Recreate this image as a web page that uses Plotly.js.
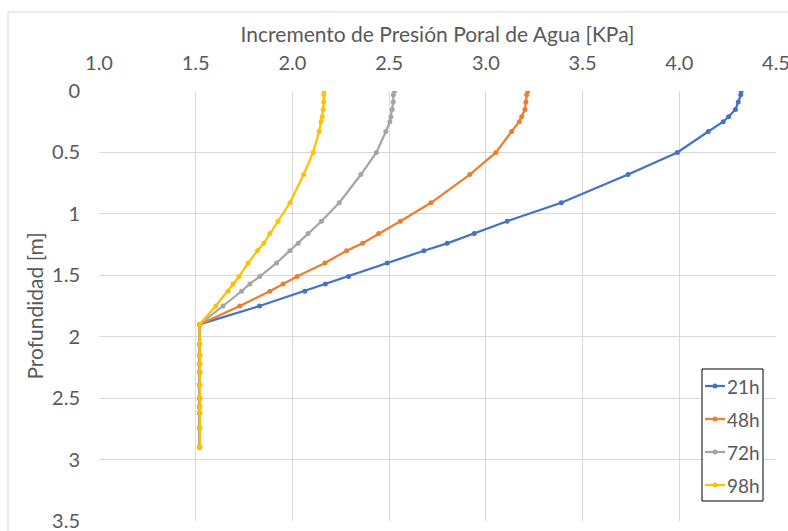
<!DOCTYPE html>
<html>
<head>
<meta charset="utf-8">
<script src="https://cdn.plot.ly/plotly-3.0.1.min.js"></script>
<style>html,body{margin:0;padding:0;background:#fff;}#chart{width:788px;height:531px;}</style>
</head>
<body>
<div id="chart"></div>
<script>
// Depth (m) shared by all series
const depth = [0, 0.03, 0.09, 0.15, 0.21, 0.25, 0.33, 0.5, 0.68, 0.91, 1.06, 1.16, 1.24, 1.30, 1.40, 1.51, 1.57, 1.63, 1.75, 1.90,
               2.06, 2.15, 2.22, 2.29, 2.39, 2.50, 2.57, 2.62, 2.74, 2.90];
const seriesNames = ["21h", "48h", "72h", "98h"];
const p21 = [4.32, 4.318, 4.305, 4.29, 4.255, 4.227, 4.15, 3.99, 3.735, 3.39, 3.11, 2.94, 2.80, 2.68, 2.49, 2.29, 2.17, 2.064, 1.83, 1.52,
             1.52, 1.52, 1.52, 1.52, 1.52, 1.52, 1.52, 1.52, 1.52, 1.52];
const p48 = [3.216, 3.211, 3.207, 3.202, 3.185, 3.173, 3.133, 3.052, 2.917, 2.716, 2.558, 2.446, 2.363, 2.28, 2.168, 2.024, 1.952, 1.883, 1.728, 1.52,
             1.52, 1.52, 1.52, 1.52, 1.52, 1.52, 1.52, 1.52, 1.52, 1.52];
const p72 = [2.528, 2.522, 2.521, 2.516, 2.509, 2.504, 2.483, 2.434, 2.354, 2.242, 2.15, 2.081, 2.03, 1.987, 1.918, 1.831, 1.78, 1.737, 1.641, 1.52,
             1.52, 1.52, 1.52, 1.52, 1.52, 1.52, 1.52, 1.52, 1.52, 1.52];
const p98 = [2.164, 2.162, 2.162, 2.159, 2.154, 2.148, 2.138, 2.107, 2.058, 1.987, 1.926, 1.883, 1.852, 1.819, 1.771, 1.724, 1.693, 1.667, 1.604, 1.52,
             1.522, 1.522, 1.522, 1.522, 1.522, 1.522, 1.522, 1.522, 1.522, 1.522];
const colors = ["#4472C4", "#ED7D31", "#A5A5A5", "#FFC000"];
const values = [p21, p48, p72, p98];

const FONT = "Lato, 'Open Sans', sans-serif";
const TXT = "#595959";
const traces = values.map((v, i) => ({
  x: v, y: depth, name: seriesNames[i], type: "scatter", mode: "lines+markers",
  line: {color: colors[i], width: 2.25},
  marker: {color: colors[i], size: 5, symbol: "circle"},
  showlegend: false
}));

// Custom legend box (Excel style: short line sample with marker)
const W = 677, H = 430, L = 99, B = 521;
const px = x => (x - L) / W, py = y => (B - y) / H;
const shapes = [
  {type: "rect", xref: "paper", yref: "paper", x0: -0.1344, x1: 1.1, y0: -0.1, y1: 1.184,
   line: {color: "#d9d9d9", width: 1}, fillcolor: "rgba(0,0,0,0)", layer: "below"},
  {type: "rect", xref: "paper", yref: "paper", x0: px(702), x1: px(763), y0: py(501), y1: py(369),
   line: {color: "#000", width: 1}, fillcolor: "#fff", layer: "above"}
];
const annotations = [];
const rowY = [386, 419, 452, 485];
seriesNames.forEach((n, i) => {
  shapes.push({type: "line", xref: "paper", yref: "paper", x0: px(705), x1: px(725), y0: py(rowY[i]), y1: py(rowY[i]),
               line: {color: colors[i], width: 2.25}, layer: "above"});
  shapes.push({type: "circle", xref: "paper", yref: "paper", x0: px(712.5), x1: px(717.5), y0: py(rowY[i] + 2.5), y1: py(rowY[i] - 2.5),
               line: {color: colors[i], width: 0}, fillcolor: colors[i], layer: "above"});
  annotations.push({xref: "paper", yref: "paper", x: px(725), y: py(rowY[i]), xanchor: "left", yanchor: "middle",
                    text: n, showarrow: false, font: {family: FONT, size: 19, color: TXT}});
});

const layout = {
  width: 788, height: 531,
  margin: {l: L, r: 12, t: 91, b: 10},
  paper_bgcolor: "#fff", plot_bgcolor: "#fff",
  font: {family: FONT, color: TXT, size: 20},
  showlegend: false,
  xaxis: {
    side: "top", range: [1, 4.5], dtick: 0.5, tick0: 1, tickformat: ".1f",
    showgrid: true, gridcolor: "#d9d9d9", gridwidth: 1, zeroline: false, showline: false,
    ticks: "", tickfont: {size: 20, color: TXT}, ticklabelstandoff: 16, ticklabeloverflow: "allow",
    title: {text: "Incremento de Presión Poral de Agua [KPa]", font: {size: 21, color: TXT}, standoff: 1}
  },
  yaxis: {
    range: [3.5, 0], dtick: 0.5, tick0: 0,
    showgrid: true, gridcolor: "#d9d9d9", gridwidth: 1, zeroline: false, showline: false,
    ticks: "", tickfont: {size: 20, color: TXT}, ticklabelstandoff: 18, ticklabeloverflow: "allow",
    title: {text: "Profundidad [m]", font: {size: 21, color: TXT}, standoff: 2}
  },
  shapes: shapes,
  annotations: annotations
};
Plotly.newPlot("chart", traces, layout, {displayModeBar: false, staticPlot: true});
</script>
</body>
</html>
